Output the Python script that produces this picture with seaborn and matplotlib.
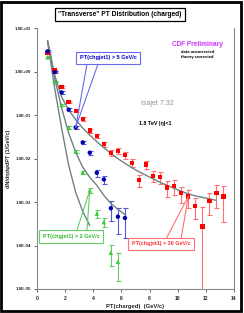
import numpy as np
import pandas as pd
import matplotlib
matplotlib.use("Agg")
import matplotlib.pyplot as plt
import seaborn as sns
from matplotlib.patches import Rectangle, ConnectionPatch
from matplotlib.ticker import FixedLocator, FixedFormatter, LogLocator, NullFormatter

# ---------------- data ----------------
x_red = [0.75, 1.25, 1.75, 2.25, 2.75, 3.25, 3.75, 4.25, 4.75, 5.25, 5.75, 6.25, 6.75,
         7.25, 7.75, 8.25, 8.75, 9.25, 9.75, 10.25, 10.75, 11.25, 11.75, 12.25, 12.75, 13.25]
y_red = [2.69, 1.05, 0.44, 0.20, 0.125, 0.0807, 0.0440, 0.0332, 0.0214, 0.0135, 0.0151, 0.0119, 0.0080,
         0.00324, 0.0073, 0.00397, 0.0037, 0.00215, 0.00236, 0.00162, 0.00133, 0.00081, 0.000274,
         0.00106, 0.00161, 0.00135]
e_red = [0.13, 0.055, 0.027, 0.014, 0.010, 0.0081, 0.0044, 0.0040, 0.0028, 0.0020, 0.0023, 0.0021, 0.0016,
         0.00097, 0.0016, 0.0011, 0.0011, 0.00086, 0.00090, 0.00065, 0.00060, 0.00041, 0.00049,
         0.00055, 0.00090, 0.0010]

x_blue = [0.75, 1.25, 1.75, 2.25, 2.75, 3.25, 3.75, 4.25, 4.75, 5.25, 5.75, 6.25]
y_blue = [2.9, 0.97, 0.33, 0.133, 0.052, 0.0234, 0.0136, 0.0047, 0.0033, 0.00072, 0.00046, 0.00043]
e_blue = [0.145, 0.049, 0.020, 0.0093, 0.0042, 0.0021, 0.0014, 0.00085, 0.00073, 0.00036, 0.00028, 0.00028]

x_green = [0.75, 1.25, 1.75, 2.25, 2.75, 3.25, 3.75, 4.25, 4.75, 5.25, 5.75]
y_green = [2.12, 0.59, 0.17, 0.052, 0.0146, 0.0048, 0.00185, 0.00054, 0.000345, 6.8e-5, 4.2e-5]
e_green = [0.106, 0.030, 0.010, 0.0036, 0.0013, 0.00048, 0.00026, 0.00011, 7.6e-5, 3.4e-5, 2.7e-5]

# Isajet 7.32 curves
th_x_green = [0.75, 1.25, 1.75, 2.25, 2.75, 3.25, 3.75]
th_y_green = [5.09, 0.419, 0.050, 0.0070, 0.00167, 0.000607, 0.000288]
th_x_blue = [0.75, 1.25, 1.75, 2.25, 2.75, 3.25, 3.75, 4.25, 4.75, 5.25, 5.75, 6.25]
th_y_blue = [5.09, 0.713, 0.145, 0.0384, 0.0140, 0.0063, 0.0037, 0.00242, 0.00142, 0.000929,
             0.000676, 0.000518]
th_x_red = [0.75, 1.25, 1.75, 2.25, 2.75, 3.25, 3.75, 4.25, 4.75, 5.25, 5.75, 6.25, 6.75,
            7.25, 7.75, 8.25, 8.75, 9.25, 9.75, 10.25, 10.75, 11.25, 11.75, 12.25, 12.75]
th_y_red = [5.09, 0.836, 0.260, 0.130, 0.0785, 0.0500, 0.0345, 0.0244, 0.0177, 0.0132, 0.00989,
            0.00778, 0.00612, 0.00495, 0.00411, 0.00341, 0.00284, 0.00242, 0.00206, 0.00176,
            0.00154, 0.00138, 0.00128, 0.00118, 0.00109]

series_names = ["PT(chgjet1) > 30 GeV/c", "PT(chgjet1) > 5 GeV/c", "PT(chgjet1) > 2 GeV/c"]
x_ticks = [0, 2, 4, 6, 8, 10, 12, 14]
y_ticks = [1e-5, 1e-4, 1e-3, 1e-2, 1e-1, 1e0, 1e1]
y_tick_labels = ["1.0E-05", "1.0E-04", "1.0E-03", "1.0E-02", "1.0E-01", "1.0E+00", "1.0E+01"]

# ---------------- style ----------------
sns.set_style("white")
plt.rcParams['font.family'] = ['Liberation Sans', 'DejaVu Sans']
plt.rcParams['font.weight'] = 'bold'

W, H = 244, 313
fig = plt.figure(figsize=(W / 100, H / 100), dpi=100)
fig.patch.set_facecolor('white')
ax = fig.add_axes([37 / W, 1 - 289 / H, (234 - 37) / W, (289 - 28) / H])

c_red, c_blue, c_green = "#FF0000", "#0000B0", "#33CC33"
ce_red, ce_blue, ce_green = "#FF7070", "#5555DD", "#66CC66"
c_theory = "#6F8282"

df = pd.concat([
    pd.DataFrame({"pt": x_red, "dens": y_red, "err": e_red, "sel": series_names[0]}),
    pd.DataFrame({"pt": x_blue, "dens": y_blue, "err": e_blue, "sel": series_names[1]}),
    pd.DataFrame({"pt": x_green, "dens": y_green, "err": e_green, "sel": series_names[2]}),
], ignore_index=True)

th = pd.concat([
    pd.DataFrame({"pt": th_x_red, "dens": th_y_red, "sel": series_names[0]}),
    pd.DataFrame({"pt": th_x_blue, "dens": th_y_blue, "sel": series_names[1]}),
    pd.DataFrame({"pt": th_x_green, "dens": th_y_green, "sel": series_names[2]}),
], ignore_index=True)

ax.set_yscale('log')

ecols = {series_names[0]: ce_red, series_names[1]: ce_blue, series_names[2]: ce_green}
for name, sub in df.groupby("sel"):
    ax.errorbar(sub["pt"], sub["dens"], yerr=sub["err"], fmt='none', ecolor=ecols[name],
                elinewidth=0.8, capsize=1.8, capthick=0.8, zorder=2)

sns.lineplot(data=th, x="pt", y="dens", units="sel", estimator=None, color=c_theory,
             linewidth=1.0, ax=ax, legend=False, zorder=3, sort=False)

sns.scatterplot(data=df, x="pt", y="dens", hue="sel", style="sel",
                palette={series_names[0]: c_red, series_names[1]: c_blue, series_names[2]: c_green},
                markers={series_names[0]: 's', series_names[1]: 'o', series_names[2]: '^'},
                s=10, edgecolor='none', linewidth=0, ax=ax, legend=False, zorder=4)

ax.set_xlim(0, 14)
ax.set_ylim(1e-5, 1e1)
ax.xaxis.set_major_locator(FixedLocator(x_ticks))
ax.set_xticklabels([str(t) for t in x_ticks])
ax.yaxis.set_major_locator(FixedLocator(y_ticks))
ax.yaxis.set_major_formatter(FixedFormatter(y_tick_labels))
ax.yaxis.set_minor_locator(LogLocator(base=10, subs=np.arange(2, 10), numticks=20))
ax.yaxis.set_minor_formatter(NullFormatter())

for s in ['left', 'bottom', 'right']:
    ax.spines[s].set_color('#8A8A8A')
    ax.spines[s].set_linewidth(0.8)
ax.spines['top'].set_visible(False)

ax.tick_params(axis='both', which='major', direction='out', length=2.5, width=0.7,
               color='#666666', labelsize=3.2, pad=1.5)
ax.tick_params(axis='y', which='minor', direction='out', length=1.5, width=0.5, color='#888888')
ax.tick_params(axis='x', labelsize=3.6, pad=2.5)
ax.tick_params(left=True, bottom=True)
for lab in ax.get_xticklabels() + ax.get_yticklabels():
    lab.set_fontweight('bold')

ax.set_xlabel("PT(charged)  (GeV/c)", fontsize=4.2, fontweight='bold', labelpad=2.5)
ax.set_ylabel("dN/dηdφdPT (1/GeV/c)", fontsize=3.9, fontweight='bold', labelpad=3)

def fx(px):
    return px / W

def fy(py):
    return 1 - py / H

# title box
fig.text(fx(120), fy(14.5), "\"Transverse\" PT Distribution (charged)", ha='center', va='center',
         fontsize=4.8, fontweight='bold', color='black',
         bbox=dict(boxstyle='square,pad=0.45', fc='white', ec='black', lw=0.9))

# annotations
fig.text(fx(197.5), fy(44.5), "CDF Preliminary", ha='center', va='center', fontsize=4.7,
         fontweight='bold', color='#CC33FF')
fig.text(fx(197.5), fy(51.7), "data uncorrected", ha='center', va='center', fontsize=3.0,
         fontweight='bold', color='black')
fig.text(fx(197.5), fy(57.3), "theory corrected", ha='center', va='center', fontsize=3.0,
         fontweight='bold', color='black')
fig.text(fx(157), fy(103.3), "Isajet 7.32", ha='center', va='center', fontsize=5.0,
         fontweight='normal', color='#8A9494')
fig.text(fx(155.5), fy(123.3), "1.8 TeV |η|<1", ha='center', va='center', fontsize=3.9,
         fontweight='bold', color='black')

# callouts
def callout(text, cx, cy, color, ecolor, anchors, target, fs=4.0, padx=0.7):
    for ax_px, ay_px in anchors:
        con = ConnectionPatch(xyA=(ax_px, H - ay_px), coordsA="figure pixels",
                              xyB=target, coordsB="data", axesA=ax, axesB=ax,
                              color=ecolor, lw=0.8, zorder=5)
        fig.add_artist(con)
    fig.text(fx(cx), fy(cy), text, ha='center', va='center', fontsize=fs, fontweight='bold',
             color=color, zorder=6,
             bbox=dict(boxstyle='square,pad=%.2f' % padx, fc='white', ec=ecolor, lw=0.8))

callout(series_names[1], 108, 58, '#0000CC', '#6A6AEE', [(87, 64), (98, 64)],
        (x_blue[4], y_blue[4]))
callout(series_names[2], 71, 236.5, '#33BB33', '#66CC66', [(77, 230), (87, 230)],
        (x_green[6], y_green[6]))
callout(series_names[0], 161, 244, '#FF3333', '#FF7070', [(166, 239), (181, 239)],
        (x_red[20], y_red[20]), fs=3.9, padx=0.6)

# outer frame
fig.add_artist(Rectangle((1.2 / W, 2 / H), 240 / W, 309.5 / H, transform=fig.transFigure,
                         fill=False, ec='black', lw=2.0, zorder=10))

fig.savefig("out.png", dpi=100)
